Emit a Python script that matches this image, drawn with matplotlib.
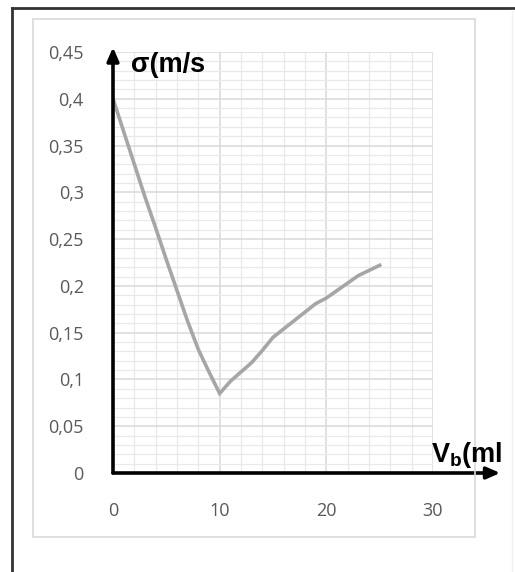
import matplotlib
matplotlib.use("Agg")
import matplotlib.pyplot as plt
from matplotlib.lines import Line2D
from matplotlib.patches import Rectangle
from matplotlib.ticker import MultipleLocator

# data
vb = [0, 1, 2, 3, 4, 5, 6, 7, 8, 9, 10, 11, 12, 13, 14, 15, 17, 19, 20, 23, 25]
sigma = [0.40, 0.365, 0.33, 0.295, 0.262, 0.228, 0.195, 0.162, 0.132, 0.108, 0.085,
         0.098, 0.108, 0.118, 0.131, 0.145, 0.163, 0.181, 0.187, 0.211, 0.222]
y_ticks = [0, 0.05, 0.1, 0.15, 0.2, 0.25, 0.3, 0.35, 0.4, 0.45]
y_labels = ["0", "0,05", "0,1", "0,15", "0,2", "0,25", "0,3", "0,35", "0,4", "0,45"]
x_ticks = [0, 10, 20, 30]
x_labels = ["0", "10", "20", "30"]

plt.rcParams["mathtext.fontset"] = "custom"
plt.rcParams["mathtext.bf"] = "Liberation Sans:bold"
plt.rcParams["mathtext.rm"] = "Liberation Sans"

W, H = 515, 572
fig = plt.figure(figsize=(W / 100, H / 100), dpi=100)
fig.patch.set_facecolor("white")

# outer frame (top and left dark, right faint)
fig.add_artist(Line2D([12 / W, 1], [1 - 8 / H, 1 - 8 / H], color="#333333", lw=2))
fig.add_artist(Line2D([12 / W, 12 / W], [0, 1 - 8 / H], color="#333333", lw=2))
fig.add_artist(Line2D([512 / W, 512 / W], [0, 1 - 10 / H], color="#f2f2f2", lw=1))
# chart area border
fig.add_artist(Rectangle((33 / W, 1 - 537 / H), (475 - 33) / W, (537 - 19) / H,
                         fill=False, edgecolor="#d9d9d9", lw=1.2))

ax = fig.add_axes([113 / W, 1 - 473 / H, (433 - 113) / W, (473 - 52) / H])
ax.set_xlim(0, 30)
ax.set_ylim(0, 0.45)
for s in ax.spines.values():
    s.set_visible(False)

ax.xaxis.set_minor_locator(MultipleLocator(2))
ax.yaxis.set_minor_locator(MultipleLocator(0.01))
ax.grid(which="minor", color="#e9e9e9", lw=0.9)
ax.grid(which="major", color="#d9d9d9", lw=1.1)
ax.set_axisbelow(True)

ax.set_xticks(x_ticks)
ax.set_xticklabels(x_labels)
ax.set_yticks(y_ticks)
ax.set_yticklabels(y_labels)
ax.tick_params(which="both", length=0, labelsize=13, labelcolor="#595959")
ax.tick_params(axis="y", pad=21)
ax.tick_params(axis="x", pad=21)
for lab in ax.get_xticklabels() + ax.get_yticklabels():
    lab.set_family("Open Sans")

ax.plot(vb, sigma, color="#a6a6a6", lw=2.6, solid_joinstyle="miter", zorder=3)

# arrowed axes
ax.annotate("", xy=(0, 0.455), xytext=(0, 0), xycoords="data",
            arrowprops=dict(arrowstyle="-|>,head_length=0.8,head_width=0.35",
                            color="black", lw=2.6, shrinkA=0, shrinkB=0),
            annotation_clip=False, zorder=4)
ax.annotate("", xy=(36.3, 0), xytext=(0, 0), xycoords="data",
            arrowprops=dict(arrowstyle="-|>,head_length=0.8,head_width=0.35",
                            color="black", lw=2.6, shrinkA=0, shrinkB=0),
            annotation_clip=False, zorder=4)

fig.text(131 / W, 1 - 65 / H, "σ(m/s", fontsize=19.5, fontweight="bold",
         family="Liberation Sans", va="center", ha="left")
fig.text(431 / W, 1 - 455 / H, r"V$_\mathbf{b}$(ml", fontsize=19.5, fontweight="bold",
         family="Liberation Sans", va="center", ha="left")

fig.savefig("out.png", dpi=100, facecolor="white")
